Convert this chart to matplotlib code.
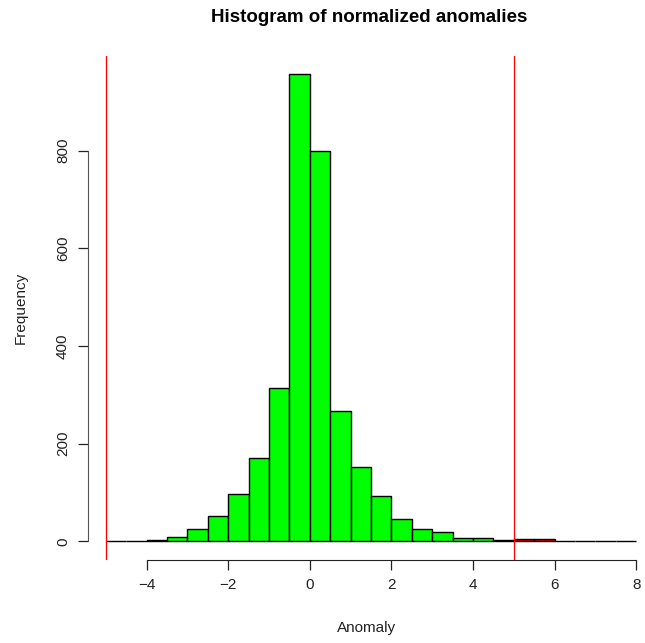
import matplotlib
matplotlib.use("Agg")
import matplotlib.pyplot as plt
import numpy as np

plt.rcParams['font.family'] = ['Liberation Sans', 'DejaVu Sans']

bin_edges = [-5.0, -4.5, -4.0, -3.5, -3.0, -2.5, -2.0, -1.5, -1.0, -0.5, 0.0, 0.5, 1.0,
             1.5, 2.0, 2.5, 3.0, 3.5, 4.0, 4.5, 5.0, 5.5, 6.0, 6.5, 7.0, 7.5, 8.0]
counts = [0, 0, 3, 9, 25, 52, 97, 171, 315, 956, 799, 268, 152, 93, 45, 25, 19, 8, 8, 3,
          5, 5, 0, 0, 0, 0]
threshold = 5.0
xticks = [-4, -2, 0, 2, 4, 6, 8]
yticks = [0, 200, 400, 600, 800]

W, H = 645, 643
fig = plt.figure(figsize=(W / 100, H / 100), dpi=100)
ax = fig.add_axes([88 / W, (H - 560) / H, (W - 88) / W, (560 - 55.7) / H])

lefts = np.array(bin_edges[:-1])
widths = np.diff(bin_edges)
colors = ['#FF0000' if l >= threshold else '#00FF00' for l in lefts]
ax.bar(lefts, counts, width=widths, align='edge', color=colors,
       edgecolor='black', linewidth=1.0)

ax.axvline(-threshold, color='red', linewidth=0.9)
ax.axvline(threshold, color='red', linewidth=0.9)

ax.set_xlim(-5.434, 8.214)
ax.set_ylim(-37.9, 994)

for s in ['top', 'right']:
    ax.spines[s].set_visible(False)
ax.spines['left'].set_bounds(0, 800)
ax.spines['bottom'].set_bounds(-4, 8)
ax.spines['left'].set_color('#555555')
ax.spines['bottom'].set_color('#222222')

ax.set_xticks(xticks)
ax.set_xticklabels(['\u22124', '\u22122', '0', '2', '4', '6', '8'])
ax.set_yticks(yticks)
ax.set_yticklabels([str(v) for v in yticks], rotation=90, va='center')
ax.tick_params(direction='out', length=7, width=0.9, labelsize=11, pad=6,
               colors='#222222')

ax.set_xlabel('Anomaly', fontsize=11, labelpad=21, color='#222222')
ax.set_ylabel('Frequency', fontsize=11, labelpad=20, color='#222222')
fig.text(369 / W, 1 - 17 / H, 'Histogram of normalized anomalies',
         ha='center', va='center', fontsize=13.5, fontweight='bold')

fig.savefig('out.png', dpi=100)
